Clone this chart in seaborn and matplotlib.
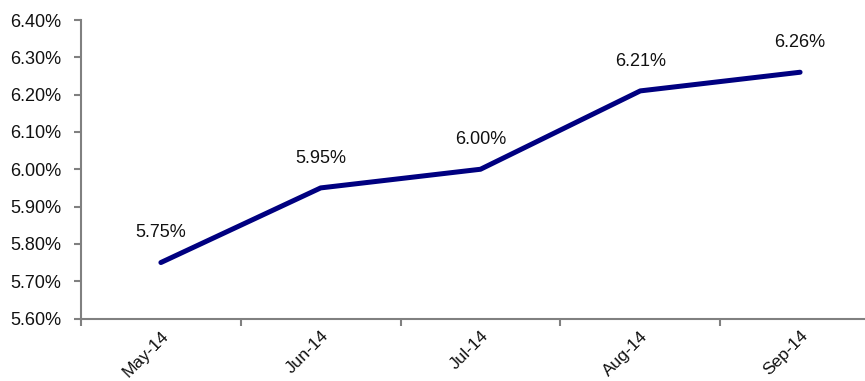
import matplotlib
matplotlib.use("Agg")
import matplotlib.pyplot as plt
import seaborn as sns
import numpy as np
import pandas as pd
from matplotlib.ticker import FixedLocator

months = ["May-14", "Jun-14", "Jul-14", "Aug-14", "Sep-14"]
rates = [5.75, 5.95, 6.00, 6.21, 6.26]
y_ticks = [5.60, 5.70, 5.80, 5.90, 6.00, 6.10, 6.20, 6.30, 6.40]

sns.set_style("white")
plt.rcParams['font.family'] = ['Liberation Sans', 'DejaVu Sans']

FS = 13
TXT = "#111111"

df = pd.DataFrame({"pos": np.arange(len(months)), "rate": rates})

fig = plt.figure(figsize=(8.65, 3.81), dpi=100)
ax = fig.add_axes([81/865, 1 - 318.5/381, (865 - 81)/865, (318.5 - 20)/381])

sns.lineplot(data=df, x="pos", y="rate", ax=ax, color="#000080", linewidth=3.6,
             solid_capstyle="round")

for i, v in enumerate(rates):
    ax.annotate(f"{v:.2f}%", (i, v), xytext=(0, 21.5), textcoords="offset points",
                ha="center", va="center", fontsize=FS, color=TXT)

ax.set_xlim(-0.5, (865 - 160) / 160)
ax.set_ylim(5.60, 6.40)
ax.set_yticks(y_ticks)
ax.set_yticklabels([f"{t:.2f}%" for t in y_ticks], fontsize=FS, color=TXT)

ax.xaxis.set_major_locator(FixedLocator([i - 0.5 for i in range(len(months) + 1)]))
ax.xaxis.set_major_formatter(plt.NullFormatter())
ax.set_xticks(range(len(months)), months, minor=True)
ax.tick_params(axis="x", which="minor", length=0, pad=7)
for lab in ax.get_xticklabels(minor=True):
    lab.set_rotation(45)
    lab.set_ha("right")
    lab.set_rotation_mode("anchor")
    lab.set_fontsize(12.5)
    lab.set_color(TXT)

ax.tick_params(axis="x", which="major", direction="out", length=5, width=1.5,
               color="#808080", bottom=True)
ax.tick_params(axis="y", which="major", direction="out", length=5, width=1.5,
               color="#808080", left=True, pad=9)

ax.set_xlabel("")
ax.set_ylabel("")
for side in ["top", "right"]:
    ax.spines[side].set_visible(False)
for side in ["left", "bottom"]:
    ax.spines[side].set_color("#808080")
    ax.spines[side].set_linewidth(1.5)

fig.savefig("out.png", dpi=100)
